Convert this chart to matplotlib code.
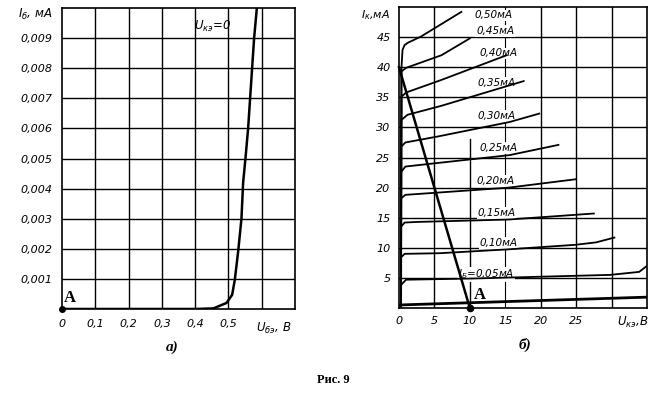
import matplotlib
matplotlib.use("Agg")
import matplotlib.pyplot as plt

# ---- data: a) input characteristic
ube = [0.0, 0.40, 0.455, 0.494, 0.511, 0.519, 0.529, 0.539, 0.544, 0.551, 0.559, 0.565, 0.571, 0.577, 0.586]
ib = [0.0, 0.0, 0.00002, 0.0002, 0.00047, 0.00097, 0.0019, 0.003, 0.0042, 0.005, 0.006, 0.007, 0.008, 0.009, 0.0101]
left_xticks = [0, 0.1, 0.2, 0.3, 0.4, 0.5]
left_xlabels = ["0", "0,1", "0,2", "0,3", "0,4", "0,5"]
left_yticks = [0.001, 0.002, 0.003, 0.004, 0.005, 0.006, 0.007, 0.008, 0.009]
left_ylabels = ["0,001", "0,002", "0,003", "0,004", "0,005", "0,006", "0,007", "0,008", "0,009"]

# ---- data: б) output characteristics
uke_0 = [0, 35]
ik_0 = [0.5, 1.8]
uke_05 = [0.27, 0.27, 1.0, 10.5, 20.1, 29.8, 33.9, 35.0]
ik_05 = [0.3, 3.8, 4.7, 4.9, 5.2, 5.5, 6.0, 7.0]
uke_10 = [0.28, 0.28, 0.8, 5.7, 15.5, 24.9, 27.8, 30.4]
ik_10 = [0.3, 8.4, 9.0, 9.1, 9.75, 10.5, 10.9, 11.7]
uke_15 = [0.28, 0.28, 0.8, 2.6, 15.5, 27.5]
ik_15 = [0.3, 13.5, 14.2, 14.3, 14.7, 15.7]
uke_20 = [0.28, 0.28, 0.9, 5.8, 15.5, 25.0]
ik_20 = [0.3, 18.2, 18.8, 19.2, 20.0, 21.4]
uke_25 = [0.28, 0.3, 0.9, 5.5, 15.6, 22.5]
ik_25 = [0.3, 22.6, 23.5, 24.1, 25.4, 27.1]
uke_30 = [0.28, 0.3, 0.9, 5.5, 15.6, 19.8]
ik_30 = [0.3, 26.8, 27.5, 28.5, 30.9, 32.3]
uke_35 = [0.28, 0.3, 1.2, 6.0, 17.6]
ik_35 = [0.3, 31.2, 32.1, 33.6, 37.7]
uke_40 = [0.28, 0.35, 1.0, 6.0, 15.2]
ik_40 = [0.3, 35.1, 35.8, 37.9, 42.0]
uke_45 = [0.28, 0.35, 1.0, 6.0, 10.0]
ik_45 = [0.3, 39.3, 39.9, 42.0, 44.8]
uke_50 = [0.3, 0.35, 0.5, 0.8, 1.3, 3.1, 8.8]
ik_50 = [0.3, 39.9, 42.9, 43.7, 44.1, 45.1, 49.2]
load_u = [0, 10]
load_i = [40, 0]

curve_labels = ["0,50мА", "0,45мА", "0,40мА", "0,35мА", "0,30мА", "0,25мА", "0,20мА", "0,15мА", "0,10мА", r"$I_{Б}$=0,05мА"]
label_u = [10.7, 10.9, 11.4, 11.1, 11.1, 11.4, 11.0, 11.1, 11.4, 8.3]
label_i = [48.6, 46.0, 42.3, 37.4, 31.9, 26.6, 21.1, 15.8, 10.8, 5.6]
right_xticks = [0, 5, 10, 15, 20, 25]
right_xlabels = ["0", "5", "10", "15", "20", "25"]
right_yticks = [5, 10, 15, 20, 25, 30, 35, 40, 45]

tick_font = dict(fontsize=8, fontstyle="italic", family="DejaVu Sans")
bold_serif = dict(family="Liberation Serif", fontweight="bold")

fig = plt.figure(figsize=(6.62, 3.97), dpi=100)
ax1 = fig.add_axes([0.0937, 0.2217, 0.352, 0.758])
ax2 = fig.add_axes([0.6027, 0.2242, 0.3746, 0.758])

# a)
ax1.set_xlim(0, 0.7)
ax1.set_ylim(0, 0.01)
for v in [0.1, 0.2, 0.3, 0.4, 0.5, 0.6]:
    ax1.axvline(v, color="black", lw=1.0, zorder=1)
for v in left_yticks:
    ax1.axhline(v, color="black", lw=1.0, zorder=1)
ax1.plot(ube, ib, color="black", lw=1.8, zorder=3)
ax1.plot([0], [0], "o", color="black", ms=4, clip_on=False, zorder=4)
ax1.text(0.004, 0.00022, "A", fontsize=12, **bold_serif)
ax1.text(0.395, 0.0094, r"$U_{кэ}$=0", fontsize=8.5, fontstyle="italic", va="center")
ax1.set_xticks(left_xticks)
ax1.set_xticklabels(left_xlabels, **tick_font)
ax1.set_yticks(left_yticks)
ax1.set_yticklabels(left_ylabels, **tick_font)
ax1.tick_params(length=0, pad=7)
ax1.text(0.69, -0.0004, r"$U_{бэ}$, В", ha="right", va="top", fontsize=8.5, fontstyle="italic")
ax1.text(-0.03, 0.0098, r"$I_{б}$, мА", ha="right", va="center", fontsize=8.5, fontstyle="italic")
for s in ax1.spines.values():
    s.set_linewidth(1.2)

# б)
ax2.set_xlim(0, 35)
ax2.set_ylim(0, 50)
for v in [5, 20, 25, 30]:
    ax2.axvline(v, color="black", lw=1.0, zorder=1)
ax2.axvline(10, ymax=0.56, color="black", lw=1.0, zorder=1)
ax2.axvline(15, color="black", lw=0.8, zorder=1)
for v in right_yticks:
    ax2.axhline(v, color="black", lw=1.0, zorder=1)
ax2.plot(uke_0, ik_0, color="black", lw=2.0, zorder=3)
for u, i in [(uke_05, ik_05), (uke_10, ik_10), (uke_15, ik_15), (uke_20, ik_20),
             (uke_25, ik_25), (uke_30, ik_30), (uke_35, ik_35), (uke_40, ik_40),
             (uke_45, ik_45), (uke_50, ik_50)]:
    ax2.plot(u, i, color="black", lw=1.3, zorder=3)
ax2.plot(load_u, load_i, color="black", lw=1.8, zorder=4, clip_on=False)
ax2.plot([10], [0], "o", color="black", ms=4.5, clip_on=False, zorder=5)
ax2.text(10.6, 1.5, "A", fontsize=12, **bold_serif)
for lab, x, y in zip(curve_labels, label_u, label_i):
    ax2.text(x, y, lab, fontsize=7.5, fontstyle="italic", va="center", zorder=2,
             bbox=dict(facecolor="white", edgecolor="none", pad=0.6))
ax2.set_xticks(right_xticks)
ax2.set_xticklabels(right_xlabels, **tick_font)
ax2.set_yticks(right_yticks)
ax2.set_yticklabels([str(v) for v in right_yticks], **tick_font)
ax2.tick_params(length=0, pad=6)
ax2.text(35.2, -1.2, r"$U_{кэ}$,В", ha="right", va="top", fontsize=8.5, fontstyle="italic")
ax2.text(-1.2, 48.6, r"$I_{к}$,мА", ha="right", va="center", fontsize=8, fontstyle="italic")
for s in ax2.spines.values():
    s.set_linewidth(1.2)

fig.text(172 / 662, 1 - 347 / 397, "а)", ha="center", va="center", fontsize=11, fontstyle="italic", **bold_serif)
fig.text(525 / 662, 1 - 345 / 397, "б)", ha="center", va="center", fontsize=11, fontstyle="italic", **bold_serif)
fig.text(333 / 662, 1 - 380 / 397, "Рис. 9", ha="center", va="center", fontsize=9, **bold_serif)

fig.savefig("out.png", dpi=100, facecolor="white")
